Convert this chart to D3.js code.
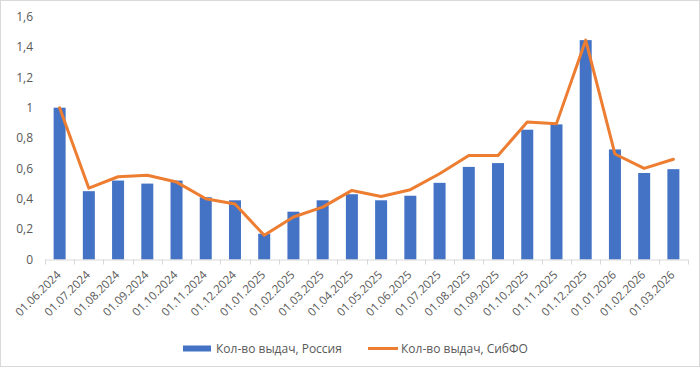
<!DOCTYPE html>
<html>
<head>
<meta charset="utf-8">
<script src="https://cdn.jsdelivr.net/npm/d3@7"></script>
<style>
  body { margin: 0; background: #fff; }
  text { font-family: "Open Sans", "Noto Sans", sans-serif; fill: #595959; }
</style>
</head>
<body>
<div id="chart"></div>
<script>
var dates = ["01.06.2024", "01.07.2024", "01.08.2024", "01.09.2024", "01.10.2024", "01.11.2024",
  "01.12.2024", "01.01.2025", "01.02.2025", "01.03.2025", "01.04.2025", "01.05.2025",
  "01.06.2025", "01.07.2025", "01.08.2025", "01.09.2025", "01.10.2025", "01.11.2025",
  "01.12.2025", "01.01.2026", "01.02.2026", "01.03.2026"]

// Кол-во выдач, Россия (bars)
var russia = [1.0, 0.45, 0.52, 0.50, 0.52, 0.41, 0.39, 0.17, 0.315, 0.39, 0.43, 0.39,
  0.42, 0.505, 0.61, 0.635, 0.855, 0.89, 1.445, 0.725, 0.57, 0.595]

// Кол-во выдач, СибФО (line)
var sibfo = [1.0, 0.47, 0.545, 0.555, 0.51, 0.40, 0.365, 0.16, 0.28, 0.345, 0.455, 0.415,
  0.46, 0.565, 0.685, 0.685, 0.905, 0.895, 1.445, 0.695, 0.60, 0.66]

var yTicks = [0, 0.2, 0.4, 0.6, 0.8, 1, 1.2, 1.4, 1.6]

var svgWidth = 700
var svgHeight = 367

var margin = { top: 16.6, right: 12, bottom: 107.5, left: 45 }
var width = svgWidth - margin.left - margin.right
var height = svgHeight - margin.top - margin.bottom

var svg = d3.select("#chart")
  .append("svg")
  .attr("width", svgWidth)
  .attr("height", svgHeight)

// chart border
svg.append("rect")
  .attr("x", 0.5)
  .attr("y", 0.5)
  .attr("width", svgWidth - 1)
  .attr("height", svgHeight - 1)
  .attr("fill", "none")
  .attr("stroke", "#d9d9d9")

var chartGroup = svg.append("g")
  .attr("transform", `translate(${margin.left}, ${margin.top})`)

var xBand = d3.scaleBand().domain(dates).range([0, width])

var yScale = d3.scaleLinear()
  .domain([0, 1.6])
  .range([height, 0])

var fmt = function(d) { return String(d).replace(".", ",") }

// Y axis labels only
var leftAxis = d3.axisLeft(yScale)
  .tickValues(yTicks)
  .tickFormat(fmt)
  .tickSize(0)
  .tickPadding(12)

var yAxis = chartGroup.append("g").call(leftAxis)
yAxis.select(".domain").remove()
yAxis.selectAll("text").style("font-size", "12px").attr("fill", "#595959")

// Bars
chartGroup.selectAll(".bar")
  .data(russia)
  .enter()
  .append("rect")
  .attr("class", "bar")
  .attr("x", (d, i) => xBand(dates[i]) + xBand.bandwidth() / 2 - 6)
  .attr("width", 12)
  .attr("y", d => yScale(d))
  .attr("height", d => height - yScale(d))
  .attr("fill", "#4472C4")

// X axis line and ticks at band boundaries
chartGroup.append("line")
  .attr("x1", 0).attr("x2", width)
  .attr("y1", height + 0.5).attr("y2", height + 0.5)
  .attr("stroke", "#d9d9d9")

var boundaries = dates.map(d => xBand(d)).concat([width])
chartGroup.selectAll(".xtick")
  .data(boundaries)
  .enter()
  .append("line")
  .attr("class", "xtick")
  .attr("x1", d => Math.round(d) + 0.5).attr("x2", d => Math.round(d) + 0.5)
  .attr("y1", height).attr("y2", height + 5)
  .attr("stroke", "#d9d9d9")

// X labels rotated
chartGroup.selectAll(".xlabel")
  .data(dates)
  .enter()
  .append("text")
  .attr("class", "xlabel")
  .attr("text-anchor", "end")
  .attr("transform", d => `translate(${xBand(d) + xBand.bandwidth() / 2 + 2}, ${height + 16}) rotate(-45)`)
  .style("font-size", "11.5px")
  .text(d => d)

// Line
var line = d3.line()
  .x((d, i) => xBand(dates[i]) + xBand.bandwidth() / 2)
  .y(d => yScale(d))

chartGroup.append("path")
  .datum(sibfo)
  .attr("d", line)
  .attr("fill", "none")
  .attr("stroke", "#ED7D31")
  .attr("stroke-width", 3)
  .attr("stroke-linejoin", "round")
  .attr("stroke-linecap", "round")

// Legend
var legend = svg.append("g")
legend.append("rect")
  .attr("x", 183).attr("y", 345.5)
  .attr("width", 28).attr("height", 6)
  .attr("fill", "#4472C4")
legend.append("text")
  .attr("x", 216).attr("y", 353)
  .style("font-size", "12px")
  .text("Кол-во выдач, Россия")

legend.append("line")
  .attr("x1", 368).attr("x2", 398)
  .attr("y1", 348.5).attr("y2", 348.5)
  .attr("stroke", "#ED7D31")
  .attr("stroke-width", 3)
legend.append("text")
  .attr("x", 401).attr("y", 353)
  .style("font-size", "12px")
  .text("Кол-во выдач, СибФО")
</script>
</body>
</html>
